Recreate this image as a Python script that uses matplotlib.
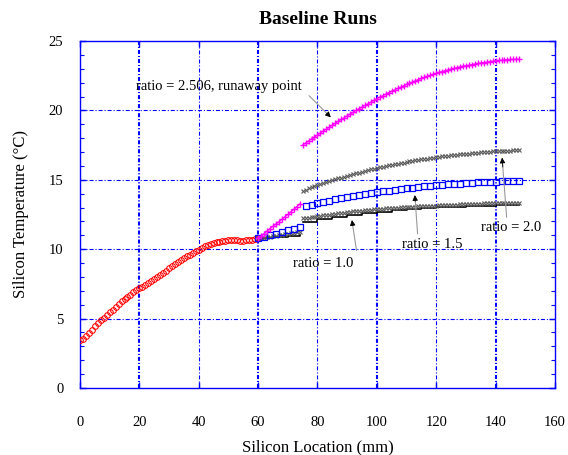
import numpy as np
import matplotlib
matplotlib.use('Agg')
import matplotlib.pyplot as plt

plt.rcParams['font.family'] = ['Liberation Serif', 'DejaVu Serif']
plt.rcParams['lines.scale_dashes'] = False

# silicon temperature along the boat, preheat zone (every 1 mm)
x_pre = list(range(0, 61))
t_pre = [3.45, 3.55, 3.72, 3.95, 4.20, 4.45, 4.68, 4.88, 5.07, 5.25,
         5.45, 5.65, 5.85, 6.05, 6.25, 6.42, 6.58, 6.73, 6.88, 7.03,
         7.18, 7.30, 7.42, 7.55, 7.68, 7.82, 7.98, 8.13, 8.30, 8.46,
         8.64, 8.80, 8.95, 9.10, 9.22, 9.35, 9.48, 9.60, 9.72, 9.84,
         9.95, 10.08, 10.20, 10.30, 10.39, 10.45, 10.50, 10.54, 10.58, 10.62,
         10.65, 10.66, 10.65, 10.63, 10.62, 10.62, 10.64, 10.66, 10.68, 10.72,
         10.78]

# first section after the split (60-74 mm)
x_sec1 = list(range(60, 75))
t_runaway_1 = [10.80, 10.95, 11.12, 11.30, 11.48, 11.65, 11.82, 11.98,
               12.15, 12.33, 12.50, 12.68, 12.86, 13.05, 13.25]
t_low_1 = [10.78, 10.81, 10.84, 10.87, 10.90, 10.93, 10.96, 10.99,
           11.02, 11.06, 11.10, 11.14, 11.18, 11.22, 11.26]
x_sq1 = [60, 62, 64, 66, 68, 70, 72, 74]
t_r15_1 = [10.80, 10.90, 11.01, 11.12, 11.24, 11.36, 11.49, 11.62]
x_blk1 = [60, 65, 70, 74]
t_blk1 = [10.78, 10.86, 10.95, 11.02]

# second section (75-148 mm)
x_sec2 = list(range(75, 149))
t_runaway_2 = [17.50, 17.65, 17.80, 17.95, 18.09, 18.23, 18.38, 18.52, 18.66, 18.80,
               18.94, 19.08, 19.22, 19.35, 19.48, 19.61, 19.74, 19.87, 20.00, 20.12,
               20.24, 20.36, 20.48, 20.60, 20.72, 20.84, 20.95, 21.06, 21.17, 21.28,
               21.38, 21.48, 21.58, 21.68, 21.78, 21.87, 21.96, 22.05, 22.14, 22.22,
               22.30, 22.38, 22.46, 22.53, 22.60, 22.67, 22.74, 22.80, 22.86, 22.92,
               22.98, 23.03, 23.08, 23.13, 23.18, 23.22, 23.26, 23.30, 23.34, 23.38,
               23.42, 23.45, 23.48, 23.51, 23.54, 23.57, 23.60, 23.62, 23.64, 23.66,
               23.67, 23.68, 23.69, 23.70]
t_r20_2 = [14.22, 14.30, 14.38, 14.46, 14.54, 14.61, 14.68, 14.75, 14.82, 14.89,
           14.96, 15.03, 15.10, 15.16, 15.22, 15.28, 15.34, 15.40, 15.46, 15.52,
           15.58, 15.64, 15.70, 15.75, 15.80, 15.85, 15.90, 15.95, 16.00, 16.04,
           16.08, 16.12, 16.16, 16.20, 16.24, 16.28, 16.32, 16.36, 16.40, 16.44,
           16.47, 16.50, 16.53, 16.56, 16.59, 16.62, 16.65, 16.68, 16.71, 16.74,
           16.77, 16.79, 16.81, 16.83, 16.85, 16.87, 16.89, 16.91, 16.93, 16.95,
           16.97, 16.99, 17.01, 17.03, 17.04, 17.05, 17.07, 17.08, 17.09, 17.10,
           17.11, 17.12, 17.13, 17.14]
t_low_2 = [12.22, 12.25, 12.28, 12.31, 12.34, 12.37, 12.40, 12.43, 12.46, 12.49,
           12.52, 12.55, 12.58, 12.61, 12.64, 12.67, 12.70, 12.72, 12.74, 12.76,
           12.78, 12.80, 12.82, 12.84, 12.86, 12.88, 12.90, 12.92, 12.94, 12.96,
           12.97, 12.98, 13.00, 13.01, 13.02, 13.04, 13.05, 13.06, 13.07, 13.08,
           13.09, 13.10, 13.11, 13.12, 13.13, 13.14, 13.15, 13.16, 13.17, 13.18,
           13.19, 13.20, 13.21, 13.22, 13.23, 13.24, 13.25, 13.26, 13.27, 13.28,
           13.29, 13.30, 13.30, 13.31, 13.31, 13.32, 13.32, 13.33, 13.33, 13.34,
           13.34, 13.35, 13.35, 13.36]
x_sq2 = list(range(76, 149, 2))
t_r15_2 = [13.10, 13.20, 13.30, 13.40, 13.49, 13.58, 13.67, 13.75, 13.83, 13.90,
           13.97, 14.04, 14.10, 14.16, 14.22, 14.28, 14.33, 14.38, 14.43, 14.48,
           14.52, 14.56, 14.60, 14.64, 14.67, 14.70, 14.73, 14.76, 14.79, 14.81,
           14.83, 14.85, 14.87, 14.88, 14.89, 14.90, 14.91]
x_blk2 = [75, 80, 85, 90, 95, 100, 105, 110, 115, 120, 125, 130, 135, 140, 145, 148]
t_blk2 = [11.98, 12.15, 12.30, 12.45, 12.58, 12.70, 12.80, 12.88, 12.95, 13.01,
          13.06, 13.10, 13.13, 13.15, 13.17, 13.18]

BLUE = '#0000ff'
MAGENTA = '#ff00ff'
GRAY = '#5a5a5a'

fig = plt.figure(figsize=(5.68, 4.55), dpi=100)
ax = fig.add_axes([0.1408, 0.1473, 0.8362, 0.7626])
ax.set_xlim(0, 160)
ax.set_ylim(0, 25)

# grid drawn by hand so the line weights can differ
dash = (0, (2.9, 1.4, 0.8, 1.4))
for xv in range(20, 160, 20):
    lw = 1.5 if xv in (20, 60, 100, 140) else 0.8
    ax.axvline(xv, color=BLUE, lw=lw, ls=dash, zorder=1)
for yv in range(5, 25, 5):
    ax.axhline(yv, color=BLUE, lw=0.8, ls=dash, zorder=1)

ax.plot(x_pre, t_pre, ls='none', marker='o', ms=4.1, mfc='none', mec='red', mew=0.75, zorder=3)

# ratio = 1.0 (black line) and its neighbour
ax.plot(x_blk1, t_blk1, color='black', lw=1.2, drawstyle='steps-post', zorder=3)
ax.plot(x_blk2, t_blk2, color='black', lw=1.2, drawstyle='steps-post', zorder=3)
ax.plot(x_sec1, t_low_1, ls='none', marker='x', ms=3.5, mec=GRAY, mew=0.8, zorder=3)
ax.plot(x_sec2, t_low_2, ls='none', marker='x', ms=3.5, mec=GRAY, mew=0.8, zorder=3)

# ratio = 1.5
ax.plot(x_sq1, t_r15_1, ls='none', marker='s', ms=4.8, mfc='none', mec=BLUE, mew=0.9, zorder=4)
ax.plot(x_sq2, t_r15_2, ls='none', marker='s', ms=4.8, mfc='none', mec=BLUE, mew=0.9, zorder=4)

# ratio = 2.0
ax.plot(x_sec2, t_r20_2, ls='none', marker='x', ms=3.5, mec=GRAY, mew=0.8, zorder=3)

# ratio = 2.506
ax.plot(x_sec1, t_runaway_1, color=MAGENTA, lw=0.8, marker='+', ms=5, mew=1.0, zorder=5)
ax.plot(x_sec2, t_runaway_2, color=MAGENTA, lw=0.8, marker='+', ms=5, mew=1.0, zorder=5)


def label_arrow(text, xy_text, xy_tail, xy_tip):
    ax.text(xy_text[0], xy_text[1], text, fontsize=10.5, ha='left', va='center', zorder=6)
    ax.annotate('', xy=xy_tip, xytext=xy_tail,
                arrowprops=dict(arrowstyle='-', color='#9a9a9a', lw=0.8), zorder=6)
    dx = xy_tip[0] - xy_tail[0]
    dy = xy_tip[1] - xy_tail[1]
    ax.annotate('', xy=xy_tip, xytext=(xy_tip[0] - 0.15 * dx, xy_tip[1] - 0.15 * dy),
                arrowprops=dict(arrowstyle='-|>', color='black', lw=0.6,
                                mutation_scale=8, shrinkA=0, shrinkB=0), zorder=6)


label_arrow('ratio = 2.506, runaway point', (18.8, 21.75), (76.5, 21.2), (84.5, 19.5))
label_arrow('ratio = 1.0', (71.8, 8.98), (93.3, 9.7), (91.6, 12.1))
label_arrow('ratio = 1.5', (108.6, 10.35), (113.8, 10.9), (112.8, 13.9))
label_arrow('ratio = 2.0', (135.0, 11.55), (143.8, 12.1), (142.2, 16.6))

for side in ax.spines.values():
    side.set_color(BLUE)
    side.set_linewidth(1.0)

ax.set_xticks(range(0, 161, 20))
ax.set_yticks(range(0, 26, 5))
ax.set_yticks(range(0, 26), minor=True)
ax.tick_params(axis='both', which='both', direction='in', color=BLUE,
               top=True, right=True, labelsize=10.5)
ax.tick_params(axis='both', which='major', length=4, width=1.0)
ax.tick_params(axis='y', which='minor', length=3, width=0.8)
ax.tick_params(axis='x', which='major', pad=20)
ax.tick_params(axis='y', which='major', pad=12)

ax.set_xlabel('Silicon Location (mm)', fontsize=12, labelpad=8)
ax.set_ylabel('Silicon Temperature (°C)', fontsize=12, labelpad=14)
ax.set_title('Baseline Runs', fontsize=14, fontweight='bold', pad=12)

fig.savefig('out.png', dpi=100)
